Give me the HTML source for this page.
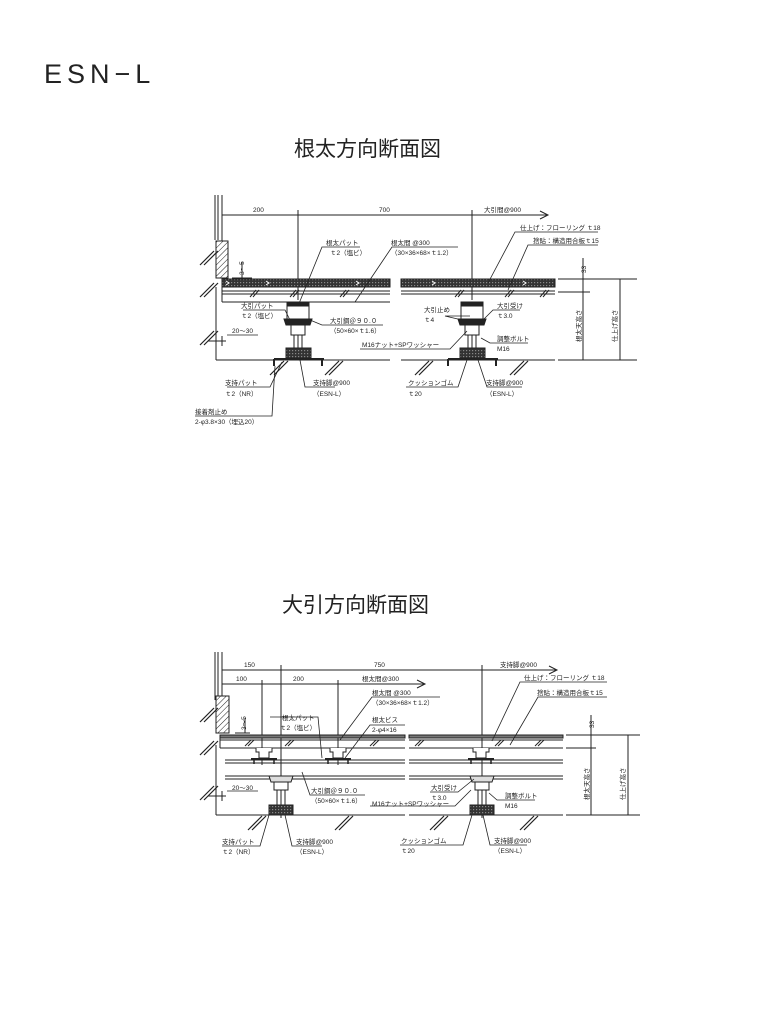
<!DOCTYPE html>
<html><head><meta charset="utf-8"><style>
html,body{margin:0;padding:0;background:#fff;}
svg{display:block;}
text{font-family:"Liberation Sans","Noto Sans CJK JP",sans-serif;fill:#222;}
.l{font-size:6.5px;}
</style></head><body>
<svg width="761" height="1024" viewBox="0 0 761 1024" xmlns="http://www.w3.org/2000/svg">
<defs>
<pattern id="dk" width="3" height="3" patternUnits="userSpaceOnUse"><rect width="3" height="3" fill="#333"/><rect width="1.2" height="1.2" fill="#888"/></pattern>
<pattern id="wh" width="4" height="4" patternUnits="userSpaceOnUse" patternTransform="rotate(45)"><rect width="4" height="4" fill="#fff"/><line x1="0" y1="0" x2="0" y2="4" stroke="#222" stroke-width="1"/></pattern>
<g id="gh" stroke="#222" stroke-width="1.2"><line x1="0" y1="0" x2="14" y2="-14"/><line x1="4" y1="0" x2="18" y2="-14"/></g>
<g id="s1" stroke="#222" fill="none" stroke-width="1">
 <rect x="-11" y="0" width="22" height="17" fill="#fff"/>
 <rect x="-11" y="0" width="22" height="4" fill="#222"/>
 <path d="M-14 17 H14 L12 23 H-12 Z" fill="#222"/>
 <rect x="-7" y="23" width="14" height="10" fill="#fff"/>
 <line x1="-4" y1="33" x2="-4" y2="46"/><line x1="4" y1="33" x2="4" y2="46"/><line x1="0" y1="33" x2="0" y2="46"/>
 <rect x="-12" y="46" width="25" height="10" fill="url(#dk)"/>
 <line x1="-24" y1="57" x2="26" y2="57" stroke-width="2"/>
 <line x1="-24" y1="57" x2="-24" y2="64" stroke-width="2"/><line x1="24" y1="57" x2="24" y2="64" stroke-width="2"/>
</g>
<g id="s2" stroke="#222" fill="none" stroke-width="1">
 <path d="M-12 0 H12 L10 6 H-10 Z" fill="#ddd"/>
 <rect x="-7" y="6" width="14" height="8" fill="#fff"/>
 <line x1="-4" y1="14" x2="-4" y2="29"/><line x1="4" y1="14" x2="4" y2="29"/><line x1="0" y1="14" x2="0" y2="29"/>
 <rect x="-12" y="29" width="24" height="10" fill="url(#dk)"/>
</g>
<g id="ch" stroke="#222" fill="#fff" stroke-width="1">
 <path d="M-8 0 V4 H-5 V10 H5 V4 H8 V0"/>
 <line x1="-13" y1="11" x2="13" y2="11" stroke-width="2"/>
 <line x1="-10" y1="11" x2="-10" y2="16" stroke-width="1.5"/><line x1="10" y1="11" x2="10" y2="16" stroke-width="1.5"/>
</g>
</defs>

<text x="44" y="83" font-size="27" letter-spacing="5" style="font-weight:300">ESN−L</text>
<text x="294" y="156" font-size="21">根太方向断面図</text>
<text x="282" y="612" font-size="21">大引方向断面図</text>

<!-- ===== TOP DIAGRAM ===== -->
<g stroke="#222" fill="none" stroke-width="1">
 <line x1="215" y1="195" x2="215" y2="240"/><line x1="218" y1="195" x2="218" y2="240"/><line x1="222" y1="195" x2="222" y2="279"/>
 <line x1="216" y1="287" x2="216" y2="360"/>
 <line x1="222" y1="215" x2="548" y2="215"/><path d="M540 211 L548 215 L540 219"/>
 <line x1="298" y1="210" x2="298" y2="300"/><line x1="472" y1="210" x2="472" y2="300"/>
 <rect x="216" y="241" width="12" height="37" fill="url(#wh)"/>
 <rect x="222" y="279" width="168" height="8" fill="url(#dk)"/><rect x="401" y="279" width="154" height="8" fill="url(#dk)"/>
 <line x1="222" y1="291" x2="390" y2="291"/><line x1="222" y1="294" x2="390" y2="294"/><line x1="222" y1="302" x2="390" y2="302"/>
 <line x1="401" y1="291" x2="555" y2="291"/><line x1="401" y1="294" x2="555" y2="294"/>
 <line x1="222" y1="287" x2="222" y2="302"/>
 <line x1="216" y1="360" x2="390" y2="360"/><line x1="401" y1="360" x2="555" y2="360"/>
 <line x1="232" y1="278" x2="252" y2="278"/><line x1="242" y1="278" x2="242" y2="262"/>
 <line x1="208" y1="341" x2="226" y2="341"/><line x1="222" y1="336" x2="222" y2="346"/>
 <line x1="558" y1="279" x2="637" y2="279"/><line x1="558" y1="292" x2="590" y2="292"/><line x1="558" y1="360" x2="637" y2="360"/>
 <line x1="583" y1="258" x2="583" y2="360"/><line x1="620" y1="279" x2="620" y2="360"/>
</g>
<g stroke="#fff" stroke-width="1" fill="none"><path d="M226 281 l3 2 l-3 2"/><path d="M266 281 l3 2 l-3 2"/><path d="M356 281 l3 2 l-3 2"/><path d="M432 281 l3 2 l-3 2"/><path d="M523 281 l3 2 l-3 2"/></g>
<g stroke="#222" stroke-width="1"><line x1="250" y1="297" x2="256" y2="290"/><line x1="253" y1="297" x2="259" y2="290"/>
<line x1="290" y1="297" x2="296" y2="290"/><line x1="293" y1="297" x2="299" y2="290"/>
<line x1="340" y1="297" x2="346" y2="290"/><line x1="343" y1="297" x2="349" y2="290"/>
<line x1="455" y1="297" x2="461" y2="290"/><line x1="458" y1="297" x2="464" y2="290"/>
<line x1="505" y1="297" x2="511" y2="290"/><line x1="508" y1="297" x2="514" y2="290"/>
<line x1="540" y1="297" x2="546" y2="290"/><line x1="543" y1="297" x2="549" y2="290"/></g>
<use href="#s1" x="298" y="302"/><use href="#s1" x="472" y="302"/>
<use href="#gh" x="200" y="265"/><use href="#gh" x="200" y="297"/><use href="#gh" x="200" y="345"/>
<use href="#gh" x="270" y="375"/><use href="#gh" x="325" y="375"/><use href="#gh" x="415" y="375"/><use href="#gh" x="510" y="375"/>
<g stroke="#222" fill="none" stroke-width="0.8">
 <polyline points="298,306 322,247 360,247"/><polyline points="355,302 392,247 458,247"/>
 <polyline points="488,283 515,232 598,232"/><polyline points="508,290 528,245 598,245"/>
 <polyline points="243,310 285,310 290,320"/><polyline points="310,320 322,325 383,325"/>
 <polyline points="462,320 445,316 470,316"/><polyline points="483,320 493,310 520,310"/>
 <polyline points="467,331 450,349 360,349"/><polyline points="481,338 490,343 528,343"/>
 <polyline points="282,362 270,387 227,387"/><polyline points="275,366 272,416 195,416"/><polyline points="300,360 305,387 335,387"/>
 <polyline points="467,360 458,387 406,387"/><polyline points="478,360 487,387 522,387"/>
 <line x1="227" y1="335" x2="258" y2="335"/>
</g>
<g class="l">
 <text x="253" y="212">200</text><text x="379" y="212">700</text><text x="484" y="212">大引間@900</text>
 <text x="520" y="230">仕上げ：フローリング ｔ18</text><text x="533" y="243">捨貼：構造用合板ｔ15</text>
 <text x="326" y="245">根太パット</text><text x="330" y="255">ｔ2（塩ビ）</text>
 <text x="391" y="245">根太間 @300</text><text x="391" y="255">（30×36×68×ｔ1.2）</text>
 <text x="241" y="308">大引パット</text><text x="241" y="318">ｔ2（塩ビ）</text>
 <text x="330" y="323">大引鋼＠９０.０</text><text x="330" y="333">（50×60×ｔ1.6）</text>
 <text x="232" y="333">20〜30</text>
 <text x="424" y="312">大引止め</text><text x="424" y="322">ｔ4</text>
 <text x="497" y="308">大引受け</text><text x="497" y="318">ｔ3.0</text>
 <text x="362" y="347">M16ナット+SPワッシャー</text>
 <text x="497" y="341">調整ボルト</text><text x="497" y="351">M16</text>
 <text x="225" y="385">支持パット</text><text x="225" y="396">ｔ2（NR）</text>
 <text x="313" y="385">支持脚@900</text><text x="313" y="396">（ESN-L）</text>
 <text x="408" y="385">クッションゴム</text><text x="408" y="396">ｔ20</text>
 <text x="486" y="385">支持脚@900</text><text x="486" y="396">（ESN-L）</text>
 <text x="195" y="414">接着剤止め</text><text x="195" y="424">2-φ3.8×30（埋込20）</text>
 <text transform="translate(244,275) rotate(-90)">3〜5</text>
 <text transform="translate(586,273) rotate(-90)">33</text>
 <text transform="translate(581,342) rotate(-90)">根太天高さ</text>
 <text transform="translate(617,342) rotate(-90)">仕上げ高さ</text>
</g>

<!-- ===== BOTTOM DIAGRAM ===== -->
<g stroke="#222" fill="none" stroke-width="1">
 <line x1="215" y1="652" x2="215" y2="700"/><line x1="218" y1="652" x2="218" y2="700"/><line x1="222" y1="652" x2="222" y2="733"/>
 <line x1="216" y1="745" x2="216" y2="815"/>
 <line x1="222" y1="670" x2="557" y2="670"/><path d="M549 666 L557 670 L549 674"/>
 <line x1="222" y1="684" x2="425" y2="684"/><path d="M417 680 L425 684 L417 688"/>
 <line x1="281" y1="665" x2="281" y2="818"/><line x1="482" y1="665" x2="482" y2="818"/>
 <line x1="262" y1="680" x2="262" y2="765"/><line x1="338" y1="680" x2="338" y2="765"/>
 <rect x="216" y="696" width="13" height="37" fill="url(#wh)"/>
 <rect x="220" y="735" width="185" height="3" fill="#777"/><rect x="409" y="735" width="154" height="3" fill="#777"/>
 <line x1="220" y1="740" x2="405" y2="740"/><line x1="409" y1="740" x2="563" y2="740"/>
 <line x1="220" y1="748" x2="405" y2="748"/><line x1="409" y1="748" x2="563" y2="748"/>
 <line x1="220" y1="735" x2="220" y2="748"/>
 <line x1="225" y1="760" x2="405" y2="760"/><line x1="225" y1="763" x2="405" y2="763"/><line x1="225" y1="776" x2="405" y2="776"/><line x1="225" y1="779" x2="405" y2="779"/>
 <line x1="409" y1="760" x2="563" y2="760"/><line x1="409" y1="763" x2="563" y2="763"/><line x1="409" y1="776" x2="563" y2="776"/><line x1="409" y1="779" x2="563" y2="779"/>
 <line x1="216" y1="815" x2="405" y2="815"/><line x1="409" y1="815" x2="563" y2="815"/>
 <line x1="235" y1="733" x2="250" y2="733"/><line x1="245" y1="733" x2="245" y2="718"/>
 <line x1="208" y1="796" x2="226" y2="796"/><line x1="222" y1="791" x2="222" y2="801"/>
 <line x1="566" y1="735" x2="640" y2="735"/><line x1="566" y1="748" x2="596" y2="748"/><line x1="566" y1="815" x2="640" y2="815"/>
 <line x1="591" y1="715" x2="591" y2="815"/><line x1="628" y1="735" x2="628" y2="815"/>
</g>
<g stroke="#222" stroke-width="1"><line x1="245" y1="746" x2="251" y2="740"/><line x1="248" y1="746" x2="254" y2="740"/>
<line x1="285" y1="746" x2="291" y2="740"/><line x1="288" y1="746" x2="294" y2="740"/>
<line x1="370" y1="746" x2="376" y2="740"/><line x1="373" y1="746" x2="379" y2="740"/>
<line x1="415" y1="746" x2="421" y2="740"/><line x1="418" y1="746" x2="424" y2="740"/>
<line x1="495" y1="746" x2="501" y2="740"/><line x1="498" y1="746" x2="504" y2="740"/>
<line x1="535" y1="746" x2="541" y2="740"/><line x1="538" y1="746" x2="544" y2="740"/></g>
<use href="#ch" x="264" y="748"/><use href="#ch" x="338" y="748"/><use href="#ch" x="481" y="748"/>
<use href="#s2" x="281" y="776"/><use href="#s2" x="482" y="776"/>
<use href="#gh" x="200" y="722"/><use href="#gh" x="200" y="755"/><use href="#gh" x="200" y="800"/>
<use href="#gh" x="248" y="830"/><use href="#gh" x="335" y="830"/><use href="#gh" x="430" y="830"/><use href="#gh" x="520" y="830"/>
<g stroke="#222" fill="none" stroke-width="0.8">
 <polyline points="270,717 318,717 322,758"/><polyline points="340,740 372,697 440,697"/>
 <polyline points="345,758 370,725 405,725"/>
 <polyline points="302,772 310,795 365,795"/>
 <polyline points="492,741 520,682 607,682"/><polyline points="510,745 538,697 607,697"/>
 <polyline points="474,779 458,792 430,792"/><polyline points="471,790 455,806 370,806"/>
 <polyline points="489,793 497,800 535,800"/>
 <polyline points="269,815 260,846 222,846"/><polyline points="285,815 292,846 322,846"/>
 <polyline points="472,815 463,845 400,845"/><polyline points="483,815 490,845 527,845"/>
 <line x1="227" y1="791" x2="258" y2="791"/>
</g>
<g class="l">
 <text x="244" y="667">150</text><text x="374" y="667">750</text><text x="500" y="667">支持脚@900</text>
 <text x="236" y="681">100</text><text x="293" y="681">200</text><text x="362" y="681">根太間@300</text>
 <text x="524" y="680">仕上げ：フローリング ｔ18</text><text x="537" y="695">捨貼：構造用合板ｔ15</text>
 <text x="372" y="695">根太間 @300</text><text x="372" y="705">（30×36×68×ｔ1.2）</text>
 <text x="282" y="720">根太パット</text><text x="280" y="730">ｔ2（塩ビ）</text>
 <text x="372" y="722">根太ビス</text><text x="372" y="732">2-φ4×16</text>
 <text x="311" y="793">大引鋼＠９０.０</text><text x="311" y="803">（50×60×ｔ1.6）</text>
 <text x="232" y="790">20〜30</text>
 <text x="431" y="790">大引受け</text><text x="431" y="800">ｔ3.0</text>
 <text x="372" y="806">M16ナット+SPワッシャー</text>
 <text x="505" y="798">調整ボルト</text><text x="505" y="808">M16</text>
 <text x="222" y="844">支持パット</text><text x="222" y="854">ｔ2（NR）</text>
 <text x="296" y="844">支持脚@900</text><text x="296" y="854">（ESN-L）</text>
 <text x="401" y="843">クッションゴム</text><text x="401" y="853">ｔ20</text>
 <text x="494" y="843">支持脚@900</text><text x="494" y="853">（ESN-L）</text>
 <text transform="translate(246,730) rotate(-90)">3〜5</text>
 <text transform="translate(594,728) rotate(-90)">33</text>
 <text transform="translate(589,800) rotate(-90)">根太天高さ</text>
 <text transform="translate(625,800) rotate(-90)">仕上げ高さ</text>
</g>
</svg>
</body></html>
